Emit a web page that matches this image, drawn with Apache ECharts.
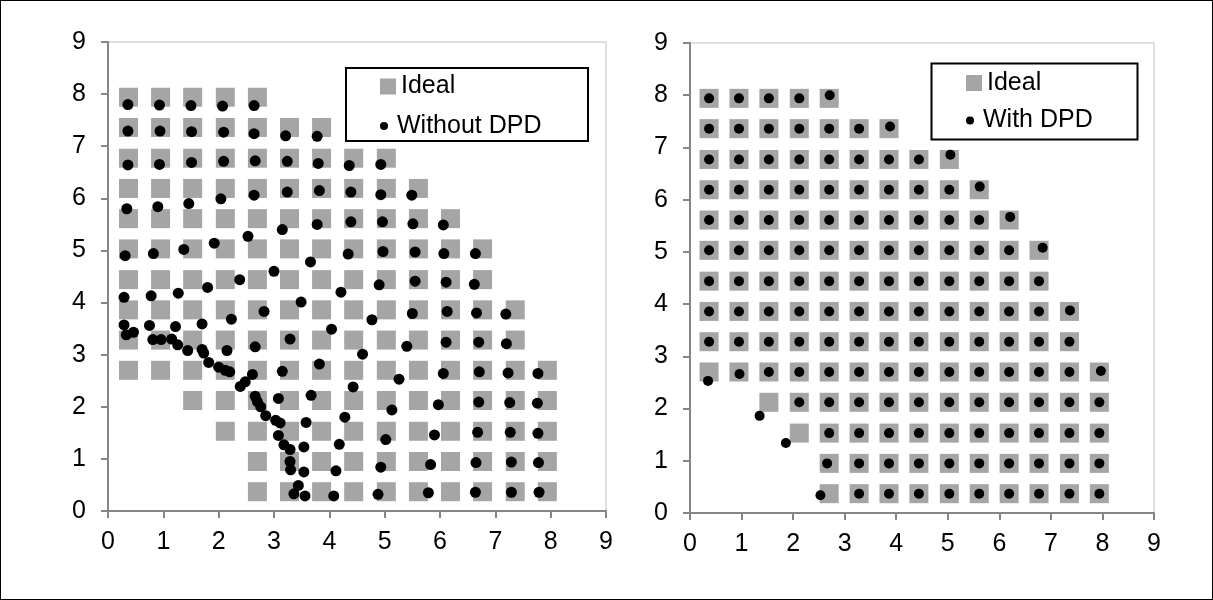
<!DOCTYPE html>
<html>
<head>
<meta charset="utf-8">
<title>Constellation: Ideal vs Without / With DPD</title>
<script src="https://cdn.jsdelivr.net/npm/echarts@6/dist/echarts.min.js"></script>
<style>
    html, body { margin: 0; padding: 0; background: #fff; }
    #main { position: absolute; left: 0; top: 0; width: 1213px; height: 600px; }
    #frame { position: absolute; left: 0; top: 0; width: 1211px; height: 598px; border: 1px solid #000; pointer-events: none; }
</style>
</head>
<body>
<div id="main"></div>
<div id="frame"></div>
<script>
var FONT = '"Liberation Sans", Arial, sans-serif';

// ideal constellation levels (same on both axes)
var levels = [0.37, 0.95, 1.53, 2.12, 2.70, 3.28, 3.86, 4.44, 5.03, 5.61, 6.19, 6.77, 7.36, 7.94];
// for each row (bottom to top): first and last column index that holds an ideal point
var idealRowSpans = [[4, 13], [4, 13], [3, 13], [2, 13], [0, 13], [0, 12], [0, 12],
                     [0, 11], [0, 11], [0, 10], [0, 9], [0, 8], [0, 6], [0, 4]];

// measured points without DPD
var withoutDpd = [
    [0.36, 7.80], [0.93, 7.79], [1.50, 7.78], [2.07, 7.77], [2.64, 7.78],
    [0.36, 7.29], [0.94, 7.29], [1.51, 7.28], [2.09, 7.27], [2.64, 7.24], [3.21, 7.20], [3.78, 7.19],
    [0.36, 6.64], [0.93, 6.65], [1.51, 6.69], [2.09, 6.71], [2.66, 6.72], [3.24, 6.71], [3.80, 6.67], [4.36, 6.63], [4.93, 6.65],
    [0.34, 5.80], [0.90, 5.84], [1.46, 5.90], [2.04, 5.99], [2.64, 6.06], [3.24, 6.12], [3.82, 6.15], [4.39, 6.12], [4.93, 6.07], [5.49, 6.06],
    [0.31, 4.90], [0.82, 4.94], [1.37, 5.02], [1.92, 5.14], [2.53, 5.27], [3.15, 5.40], [3.78, 5.50], [4.39, 5.55], [4.96, 5.55], [5.51, 5.51], [6.06, 5.49],
    [0.29, 4.10], [0.78, 4.13], [1.27, 4.18], [1.80, 4.29], [2.38, 4.44], [3.00, 4.60], [3.66, 4.78], [4.34, 4.93], [4.97, 4.98], [5.55, 4.97], [6.07, 4.94], [6.64, 4.94],
    [0.29, 3.57], [0.75, 3.56], [1.22, 3.54], [1.70, 3.59], [2.23, 3.68], [2.82, 3.83], [3.49, 4.01], [4.21, 4.20], [4.90, 4.34], [5.55, 4.41], [6.11, 4.39], [6.62, 4.35],
    [4.77, 3.67], [5.50, 3.79], [6.13, 3.83], [6.66, 3.80], [7.19, 3.78],
    [4.04, 3.49], [4.60, 3.01], [5.40, 3.16], [6.11, 3.24], [6.70, 3.24], [7.20, 3.21],
    [4.43, 2.38], [5.26, 2.53], [6.06, 2.64], [6.71, 2.67], [7.23, 2.65], [7.77, 2.64],
    [4.28, 1.80], [5.13, 1.94], [5.97, 2.04], [6.70, 2.09], [7.26, 2.08], [7.76, 2.07],
    [4.18, 1.28], [5.02, 1.37], [5.90, 1.46], [6.68, 1.51], [7.27, 1.51], [7.77, 1.49],
    [4.12, 0.77], [4.93, 0.84], [5.83, 0.89], [6.65, 0.93], [7.29, 0.94], [7.78, 0.93],
    [4.08, 0.29], [4.88, 0.32], [5.79, 0.35], [6.64, 0.36], [7.29, 0.36], [7.79, 0.36],
    [0.33, 3.38], [0.46, 3.43], [0.81, 3.29], [0.96, 3.29], [1.15, 3.30], [1.26, 3.19], [1.44, 3.08],
    [1.70, 3.10], [1.73, 3.03], [2.15, 3.08], [2.66, 3.15], [3.29, 3.30], [3.82, 2.82], [1.82, 2.85],
    [2.00, 2.76], [2.12, 2.70], [2.20, 2.67], [3.15, 2.68], [2.39, 2.39], [2.48, 2.48], [2.61, 2.62],
    [3.67, 2.22], [2.66, 2.20], [2.70, 2.10], [2.76, 2.00], [3.08, 2.16], [2.85, 1.83], [3.03, 1.74],
    [3.11, 1.69], [3.58, 1.70], [3.08, 1.45], [3.18, 1.27], [3.29, 1.18], [3.54, 1.23], [3.29, 0.95],
    [3.30, 0.79], [3.54, 0.75], [3.44, 0.49], [3.36, 0.33], [3.56, 0.29]
];

// measured points with DPD
var withDpd = [
    [0.37, 7.94], [0.95, 7.94], [1.53, 7.94], [2.12, 7.94], [2.71, 8.00],
    [0.37, 7.36], [0.95, 7.36], [1.53, 7.36], [2.12, 7.36], [2.70, 7.36], [3.28, 7.36], [3.88, 7.40],
    [0.37, 6.77], [0.95, 6.77], [1.53, 6.77], [2.12, 6.77], [2.70, 6.77], [3.28, 6.77], [3.86, 6.77], [4.44, 6.77], [5.05, 6.86],
    [0.37, 6.19], [0.95, 6.19], [1.53, 6.19], [2.12, 6.19], [2.70, 6.19], [3.28, 6.19], [3.86, 6.19], [4.44, 6.19], [5.03, 6.19], [5.62, 6.25],
    [0.37, 5.61], [0.95, 5.61], [1.53, 5.61], [2.12, 5.61], [2.70, 5.61], [3.28, 5.61], [3.86, 5.61], [4.44, 5.61], [5.03, 5.61], [5.61, 5.61], [6.21, 5.67],
    [0.37, 5.03], [0.95, 5.03], [1.53, 5.03], [2.12, 5.03], [2.70, 5.03], [3.28, 5.03], [3.86, 5.03], [4.44, 5.03], [5.03, 5.03], [5.61, 5.03], [6.19, 5.03], [6.84, 5.08],
    [0.37, 4.44], [0.95, 4.44], [1.53, 4.44], [2.12, 4.44], [2.70, 4.44], [3.28, 4.44], [3.86, 4.44], [4.44, 4.44], [5.03, 4.44], [5.61, 4.44], [6.19, 4.44], [6.77, 4.44],
    [0.37, 3.86], [0.95, 3.86], [1.53, 3.86], [2.12, 3.86], [2.70, 3.86], [3.28, 3.86], [3.86, 3.86], [4.44, 3.86], [5.03, 3.86], [5.61, 3.86], [6.19, 3.86], [6.77, 3.86], [7.37, 3.88],
    [0.37, 3.28], [0.95, 3.28], [1.53, 3.28], [2.12, 3.28], [2.70, 3.28], [3.28, 3.28], [3.86, 3.28], [4.44, 3.28], [5.03, 3.28], [5.61, 3.28], [6.19, 3.28], [6.77, 3.28], [7.36, 3.28],
    [0.35, 2.53], [0.96, 2.66], [1.53, 2.70], [2.12, 2.70], [2.70, 2.70], [3.28, 2.70], [3.86, 2.70], [4.44, 2.70], [5.03, 2.70], [5.61, 2.70], [6.19, 2.70], [6.77, 2.70], [7.36, 2.70], [7.97, 2.72],
    [1.35, 1.86], [2.12, 2.12], [2.70, 2.12], [3.28, 2.12], [3.86, 2.12], [4.44, 2.12], [5.03, 2.12], [5.61, 2.12], [6.19, 2.12], [6.77, 2.12], [7.36, 2.12], [7.94, 2.12],
    [1.86, 1.34], [2.70, 1.53], [3.28, 1.53], [3.86, 1.53], [4.44, 1.53], [5.03, 1.53], [5.61, 1.53], [6.19, 1.53], [6.77, 1.53], [7.36, 1.53], [7.94, 1.53],
    [2.66, 0.95], [3.28, 0.95], [3.86, 0.95], [4.44, 0.95], [5.03, 0.95], [5.61, 0.95], [6.19, 0.95], [6.77, 0.95], [7.36, 0.95], [7.94, 0.95],
    [2.53, 0.34], [3.28, 0.37], [3.86, 0.37], [4.44, 0.37], [5.03, 0.37], [5.61, 0.37], [6.19, 0.37], [6.77, 0.37], [7.36, 0.37], [7.94, 0.37]
];

var axisTicks = [0, 1, 2, 3, 4, 5, 6, 7, 8, 9];

// ideal grid points from the level table
var idealPoints = [];
idealRowSpans.forEach(function (span, row) {
    for (var c = span[0]; c <= span[1]; c++) {
        idealPoints.push([levels[c], levels[row]]);
    }
});

var axisColor = '#868686';

function makeAxis(gi, isX) {
    return {
        type: 'value',
        gridIndex: gi,
        min: axisTicks[0],
        max: axisTicks[axisTicks.length - 1],
        interval: 1,
        axisLine: { show: true, onZero: false, lineStyle: { color: axisColor, width: 2 } },
        axisTick: { show: true, inside: false, length: 7, lineStyle: { color: axisColor, width: 2 } },
        axisLabel: { show: true, fontSize: 25, color: '#000', fontFamily: FONT, margin: isX ? 19 : 22 },
        splitLine: { show: false }
    };
}

function makeLegend(name, icon, left, top, h) {
    return {
        data: [{ name: name, icon: icon }],
        left: left,
        top: top,
        orient: 'vertical',
        padding: 0,
        itemWidth: 16,
        itemHeight: h,
        symbolKeepAspect: true,
        selectedMode: false,
        textStyle: { fontSize: 25, color: '#000', fontFamily: FONT, lineHeight: 24 }
    };
}

var chart = echarts.init(document.getElementById('main'));

var option = {
    animation: false,
    backgroundColor: '#fff',
    grid: [
        { left: 108, top: 42, width: 498, height: 469, show: true, borderColor: '#d4d4d4', borderWidth: 1.5 },
        { left: 690, top: 43, width: 464, height: 470, show: true, borderColor: '#d4d4d4', borderWidth: 1.5 }
    ],
    xAxis: [makeAxis(0, true), makeAxis(1, true)],
    yAxis: [makeAxis(0, false), makeAxis(1, false)],
    legend: [
        makeLegend('Ideal', 'rect', 380, 74, 16),
        makeLegend('Without DPD', 'circle', 380, 113.5, 8),
        makeLegend('Ideal', 'rect', 966, 70.5, 16),
        makeLegend('With DPD', 'circle', 966, 108, 8)
    ],
    graphic: [
        { type: 'rect', shape: { x: 346, y: 68, width: 242, height: 73 }, style: { fill: 'none', stroke: '#000', lineWidth: 2 }, silent: true },
        { type: 'rect', shape: { x: 931.5, y: 63.5, width: 206, height: 76 }, style: { fill: 'none', stroke: '#000', lineWidth: 2 }, silent: true }
    ],
    series: [
        { name: 'Ideal', type: 'scatter', xAxisIndex: 0, yAxisIndex: 0, symbol: 'rect', symbolSize: 19,
          itemStyle: { color: '#a5a5a5', opacity: 1 }, data: idealPoints, z: 2 },
        { name: 'Without DPD', type: 'scatter', xAxisIndex: 0, yAxisIndex: 0, symbol: 'circle', symbolSize: 11,
          itemStyle: { color: '#000', opacity: 1 }, data: withoutDpd, z: 3 },
        { name: 'Ideal', type: 'scatter', xAxisIndex: 1, yAxisIndex: 1, symbol: 'rect', symbolSize: 19,
          itemStyle: { color: '#a5a5a5', opacity: 1 }, data: idealPoints, z: 2 },
        { name: 'With DPD', type: 'scatter', xAxisIndex: 1, yAxisIndex: 1, symbol: 'circle', symbolSize: 10,
          itemStyle: { color: '#000', opacity: 1 }, data: withDpd, z: 3 }
    ]
};

chart.setOption(option);
</script>
</body>
</html>
